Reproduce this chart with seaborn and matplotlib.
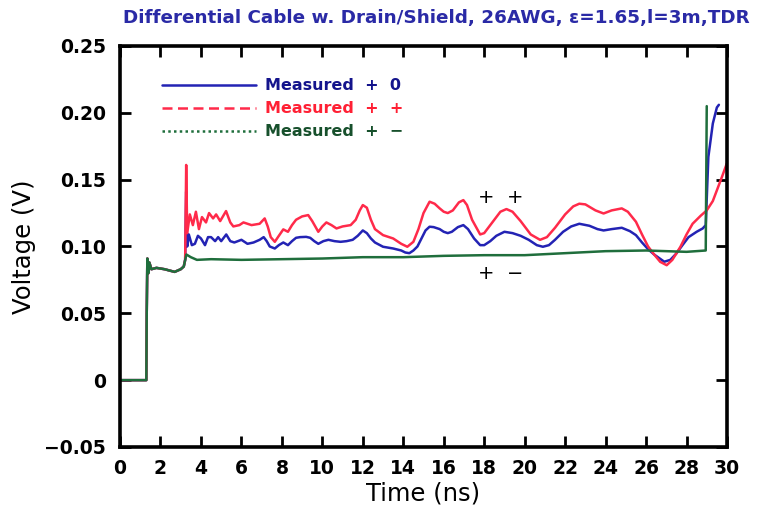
import numpy as np
import pandas as pd
import matplotlib
matplotlib.use("Agg")
import matplotlib.pyplot as plt
from matplotlib.lines import Line2D
import seaborn as sns

# ---- TDR data (time in ns, voltage in V) ----
lead_t = [0.0, 1.30, 1.32, 1.35, 1.40, 1.45, 1.55, 1.8, 2.2, 2.7, 3.0, 3.15, 3.22]
lead_v = [0.0, 0.0, 0.05, 0.091, 0.080, 0.088, 0.083, 0.084, 0.083, 0.081, 0.083, 0.085, 0.090]

t_plus0 = [3.27, 3.32, 3.40, 3.55, 3.70, 3.85, 4.0, 4.2, 4.35, 4.5, 4.7, 4.85, 5.0,
           5.25, 5.45, 5.65, 6.0, 6.3, 6.6, 6.9, 7.1, 7.25, 7.4, 7.65, 7.85, 8.07, 8.3,
           8.5, 8.7, 8.9, 9.2, 9.4, 9.6, 9.8, 10.05, 10.3, 10.6, 10.9, 11.2, 11.5,
           11.75, 12.0, 12.2, 12.4, 12.6, 13.0, 13.5, 13.9, 14.1, 14.3, 14.5, 14.7,
           14.9, 15.1, 15.3, 15.5, 15.8, 16.0, 16.2, 16.4, 16.7, 16.97, 17.2, 17.5,
           17.8, 18.0, 18.3, 18.6, 19.0, 19.4, 19.8, 20.2, 20.6, 20.9, 21.2, 21.5,
           21.9, 22.3, 22.7, 23.2, 23.6, 23.9, 24.3, 24.8, 25.2, 25.5, 25.8, 26.1,
           26.4, 26.9, 27.2, 27.5, 27.8, 28.1, 28.5, 28.8, 28.95, 29.08, 29.3, 29.5,
           29.6]
v_plus0 = [0.141, 0.100, 0.109, 0.101, 0.102, 0.108, 0.106, 0.101, 0.107, 0.107, 0.104,
           0.107, 0.104, 0.109, 0.104, 0.103, 0.105, 0.102, 0.103, 0.105, 0.107, 0.104,
           0.100, 0.0985, 0.101, 0.103, 0.101, 0.104, 0.1065, 0.107, 0.1072, 0.1065,
           0.104, 0.102, 0.104, 0.105, 0.104, 0.1035, 0.104, 0.105, 0.108, 0.112,
           0.110, 0.106, 0.103, 0.0998, 0.0985, 0.097, 0.0955, 0.095, 0.097, 0.100,
           0.106, 0.112, 0.1148, 0.1145, 0.113, 0.111, 0.110, 0.111, 0.1145, 0.116,
           0.113, 0.106, 0.101, 0.101, 0.104, 0.108, 0.111, 0.110, 0.108, 0.105,
           0.101, 0.0998, 0.101, 0.105, 0.111, 0.115, 0.117, 0.1155, 0.113, 0.112,
           0.113, 0.114, 0.1115, 0.1085, 0.103, 0.098, 0.094, 0.0886, 0.090, 0.0948,
           0.101, 0.107, 0.111, 0.1135, 0.116, 0.167, 0.192, 0.204, 0.206]

t_plusplus = [3.27, 3.32, 3.45, 3.6, 3.75, 3.9, 4.05, 4.25, 4.4, 4.6, 4.75, 4.95, 5.24,
              5.45, 5.6, 5.9, 6.1, 6.5, 6.9, 7.15, 7.3, 7.45, 7.65, 7.85, 8.07, 8.3,
              8.5, 8.7, 9.0, 9.3, 9.5, 9.8, 10.0, 10.2, 10.45, 10.7, 11.0, 11.4, 11.65,
              11.85, 12.0, 12.2, 12.4, 12.6, 13.0, 13.5, 13.9, 14.2, 14.5, 14.75, 15.0,
              15.3, 15.55, 15.8, 16.0, 16.2, 16.45, 16.75, 16.97, 17.15, 17.4, 17.8,
              18.0, 18.4, 18.8, 19.1, 19.4, 19.8, 20.3, 20.76, 21.1, 21.5, 22.0, 22.4,
              22.7, 23.0, 23.5, 23.9, 24.3, 24.8, 25.1, 25.5, 25.8, 26.1, 26.4, 26.7,
              27.02, 27.3, 27.7, 28.0, 28.3, 28.7, 29.0, 29.3, 29.5, 29.75, 29.99]
v_plusplus = [0.161, 0.110, 0.124, 0.116, 0.126, 0.113, 0.122, 0.118, 0.125, 0.121,
              0.124, 0.119, 0.1265, 0.118, 0.115, 0.116, 0.118, 0.116, 0.117, 0.121,
              0.115, 0.107, 0.1035, 0.108, 0.1128, 0.111, 0.116, 0.120, 0.1225, 0.1235,
              0.119, 0.111, 0.115, 0.118, 0.116, 0.1135, 0.115, 0.116, 0.120, 0.127,
              0.131, 0.129, 0.120, 0.113, 0.1085, 0.106, 0.102, 0.0998, 0.1035, 0.113,
              0.125, 0.1335, 0.132, 0.1285, 0.126, 0.125, 0.127, 0.133, 0.1347, 0.131,
              0.120, 0.109, 0.110, 0.118, 0.126, 0.128, 0.126, 0.119, 0.109, 0.105,
              0.107, 0.114, 0.124, 0.130, 0.132, 0.1315, 0.127, 0.1247, 0.127, 0.1285,
              0.126, 0.1185, 0.109, 0.100, 0.094, 0.0885, 0.086, 0.090, 0.0998, 0.109,
              0.117, 0.123, 0.127, 0.134, 0.142, 0.152, 0.162]

t_plusminus = [3.28, 3.5, 3.8, 4.5, 6.0, 8.0, 10.0, 12.0, 14.0, 16.0, 18.0, 20.0, 22.0,
               24.0, 26.0, 27.0, 28.0, 28.95, 29.0]
v_plusminus = [0.094, 0.092, 0.090, 0.0905, 0.090, 0.0905, 0.091, 0.092, 0.092, 0.093,
               0.0935, 0.0935, 0.095, 0.0965, 0.097, 0.0965, 0.096, 0.097, 0.205]

labels = ["Measured  +  0", "Measured  +  +", "Measured  +  \u2212"]
colors = ["#2323b4", "#ff2a4a", "#1f6e3c"]
text_colors = ["#14148c", "#ff2034", "#17502c"]
styles = ["-", (0, (4, 2.2)), (0, (1, 1.3))]

x_ticks = list(range(0, 31, 2))
y_ticks = [-0.05, 0, 0.05, 0.10, 0.15, 0.20, 0.25]
y_tick_labels = ["\u22120.05", "0", "0.05", "0.10", "0.15", "0.20", "0.25"]

frames = []
for lab, t, v in [(labels[0], t_plus0, v_plus0),
                  (labels[1], t_plusplus, v_plusplus),
                  (labels[2], t_plusminus, v_plusminus)]:
    frames.append(pd.DataFrame({"Time": lead_t + t, "Voltage": lead_v + v, "Trace": lab}))
df = pd.concat(frames, ignore_index=True)

sns.set_style("ticks")
plt.rcParams["font.family"] = ["DejaVu Sans"]
plt.rcParams["text.color"] = "black"
plt.rcParams["axes.labelcolor"] = "black"
plt.rcParams["xtick.color"] = "black"
plt.rcParams["ytick.color"] = "black"

fig = plt.figure(figsize=(7.65, 5.18), dpi=100)
ax = fig.add_axes([0.1569, 0.1371, 0.7934, 0.7741])

sns.lineplot(data=df, x="Time", y="Voltage", hue="Trace", hue_order=labels,
             palette=dict(zip(labels, colors)), sort=False, estimator=None,
             linewidth=1.8, legend=False, ax=ax)

ax.set_xlim(0, 30)
ax.set_ylim(-0.05, 0.25)
ax.set_xticks(x_ticks)
ax.set_xticklabels([str(x) for x in x_ticks])
ax.set_yticks(y_ticks)
ax.set_yticklabels(y_tick_labels)
ax.tick_params(direction="in", length=8, width=2, top=True, right=True,
               labelsize=13.5, colors="black")
ax.tick_params(axis="x", pad=9)
ax.tick_params(axis="y", pad=10)
for lbl in ax.get_xticklabels() + ax.get_yticklabels():
    lbl.set_fontweight("bold")
for sp in ax.spines.values():
    sp.set_visible(True)
    sp.set_linewidth(2.6)
    sp.set_color("black")

ax.set_xlabel("Time (ns)", fontsize=17.5, labelpad=2, color="black")
ax.set_ylabel("Voltage (V)", fontsize=17.5, labelpad=6, color="black")

fig.text(0.571, 0.965, "Differential Cable w. Drain/Shield, 26AWG, \u03b5=1.65,l=3m,TDR",
         ha="center", va="center", fontsize=13.2, fontweight="bold", color="#2a2aa6")

handles = [Line2D([], [], color=c, linestyle=s, linewidth=1.8) for c, s in zip(colors, styles)]
leg = ax.legend(handles, labels, loc="upper left", bbox_to_anchor=(0.045, 0.955),
                frameon=False, handlelength=5.9, handletextpad=0.55, labelspacing=0.5,
                prop={"size": 11.5, "weight": "bold"})
for txt, c in zip(leg.get_texts(), text_colors):
    txt.set_color(c)

ax.text(18.8, 0.137, "+  +", ha="center", va="center", fontsize=14, color="black")
ax.text(18.8, 0.080, "+  \u2212", ha="center", va="center", fontsize=14, color="black")

fig.savefig("out.png", dpi=100, facecolor="white")
